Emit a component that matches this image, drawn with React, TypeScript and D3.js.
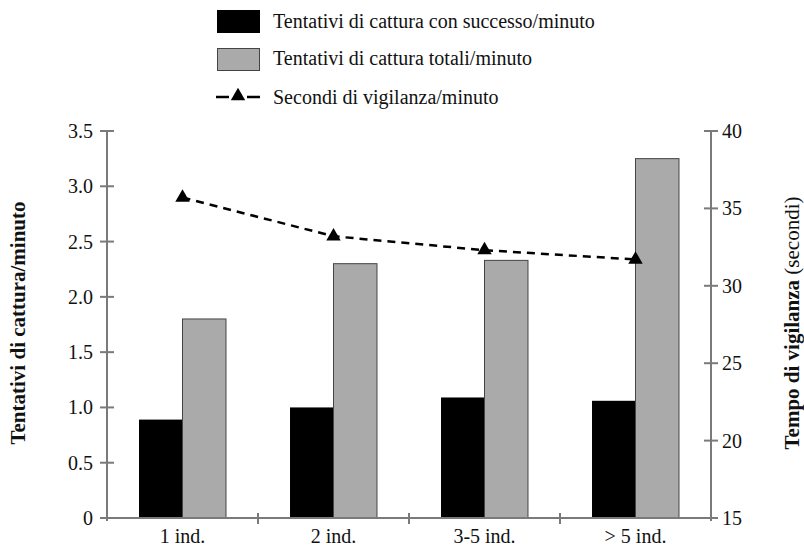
import React from "react";
import * as d3 from "d3";

const categories = ["1 ind.", "2 ind.", "3-5 ind.", "> 5 ind."];
const successful = [0.89, 1.0, 1.09, 1.06];
const total = [1.8, 2.3, 2.33, 3.25];
const vigilance = [35.7, 33.2, 32.3, 31.7];
const leftTicks = [0, 0.5, 1.0, 1.5, 2.0, 2.5, 3.0, 3.5];
const rightTicks = [15, 20, 25, 30, 35, 40];
const legendLabels = [
  "Tentativi di cattura con successo/minuto",
  "Tentativi di cattura totali/minuto",
  "Secondi di vigilanza/minuto",
];

const W = 804;
const H = 551;
const FONT = "Liberation Serif, DejaVu Serif, Times New Roman, serif";
const AXIS = "#7a7a7a";

export default function App() {
  const x = d3.scaleBand<string>().domain(categories).range([107, 711]).paddingInner(0).paddingOuter(0);
  const yL = d3.scaleLinear().domain([0, 3.5]).range([518, 131]);
  const yR = d3.scaleLinear().domain([15, 40]).range([518, 131]);
  const bw = x.bandwidth();
  const barW = bw * 0.288;
  const cx = (c: string) => (x(c) as number) + bw / 2;

  const line = d3
    .line<number>()
    .x((_, i) => cx(categories[i]))
    .y((d) => yR(d));

  const tri = d3.symbol().type(d3.symbolTriangle).size(90)() as string;
  const fmt = (v: number) => (v === 0 ? "0" : d3.format(".1f")(v));

  const boundaries = [...categories.map((c) => x(c) as number), 711];
  const ts = { fontFamily: FONT, fontSize: 20 } as React.CSSProperties;
  const tt = { fontFamily: FONT, fontSize: 21 } as React.CSSProperties;

  return (
    <svg width={W} height={H} style={{ position: "absolute", left: 0, top: 0, background: "#fff", fontFamily: FONT }}>
      <rect x={0} y={0} width={W} height={H} fill="#fff" />
      {/* Legend */}
      <g>
        <rect x={217} y={10} width={43} height={23} fill="#000" />
        <text x={273} y={28} style={ts} fill="#111">{legendLabels[0]}</text>
        <rect x={217.5} y={48.5} width={42} height={22} fill="#aaa" stroke="#444" strokeWidth={1} />
        <text x={273} y={65} style={ts} fill="#111">{legendLabels[1]}</text>
        <line x1={216} x2={229} y1={97} y2={97} stroke="#000" strokeWidth={2.5} />
        <line x1={247} x2={260} y1={97} y2={97} stroke="#000" strokeWidth={2.5} />
        <path d={tri} transform="translate(238,96)" fill="#000" />
        <text x={273} y={104} style={ts} fill="#111">{legendLabels[2]}</text>
      </g>

      {/* Bars */}
      {categories.map((c, i) => (
        <g key={c}>
          <rect x={cx(c) - barW} y={yL(successful[i])} width={barW} height={yL(0) - yL(successful[i])} fill="#000" />
          <rect
            x={cx(c)}
            y={yL(total[i])}
            width={barW}
            height={yL(0) - yL(total[i])}
            fill="#aaa"
            stroke="#444"
            strokeWidth={1}
          />
        </g>
      ))}

      {/* Axes */}
      <line x1={107} x2={107} y1={131} y2={521} stroke={AXIS} strokeWidth={2} />
      <line x1={711} x2={711} y1={131} y2={521} stroke={AXIS} strokeWidth={2} />
      <line x1={103} x2={715} y1={518} y2={518} stroke={AXIS} strokeWidth={2} />
      {leftTicks.map((t) => (
        <g key={"l" + t}>
          <line x1={100} x2={114} y1={yL(t)} y2={yL(t)} stroke={AXIS} strokeWidth={2} />
          <text x={93} y={yL(t) + 7} style={ts} textAnchor="end" fill="#111">{fmt(t)}</text>
        </g>
      ))}
      {rightTicks.map((t) => (
        <g key={"r" + t}>
          <line x1={704} x2={718} y1={yR(t)} y2={yR(t)} stroke={AXIS} strokeWidth={2} />
          <text x={722} y={yR(t) + 7} style={ts} textAnchor="start" fill="#111">{t}</text>
        </g>
      ))}
      {boundaries.slice(1, 4).map((b, i) => (
        <line key={"b" + i} x1={b} x2={b} y1={513} y2={524} stroke={AXIS} strokeWidth={2} />
      ))}
      {categories.map((c) => (
        <text key={"x" + c} x={cx(c)} y={543} style={ts} textAnchor="middle" fill="#111">{c}</text>
      ))}

      {/* Line */}
      <path d={line(vigilance) as string} fill="none" stroke="#000" strokeWidth={2.5} strokeDasharray="8,6" />
      {vigilance.map((v, i) => (
        <path key={"t" + i} d={tri} transform={`translate(${cx(categories[i])},${yR(v)})`} fill="#000" />
      ))}

      {/* Axis titles */}
      <text
        transform="translate(25,323) rotate(-90)"
        textAnchor="middle"
        style={{ ...tt, fontWeight: "bold" }}
        fill="#111"
      >
        Tentativi di cattura/minuto
      </text>
      <text transform="translate(799,323) rotate(-90)" textAnchor="middle" style={tt} fill="#111">
        <tspan fontWeight="bold">Tempo di vigilanza</tspan>
        <tspan> (secondi)</tspan>
      </text>
    </svg>
  );
}
